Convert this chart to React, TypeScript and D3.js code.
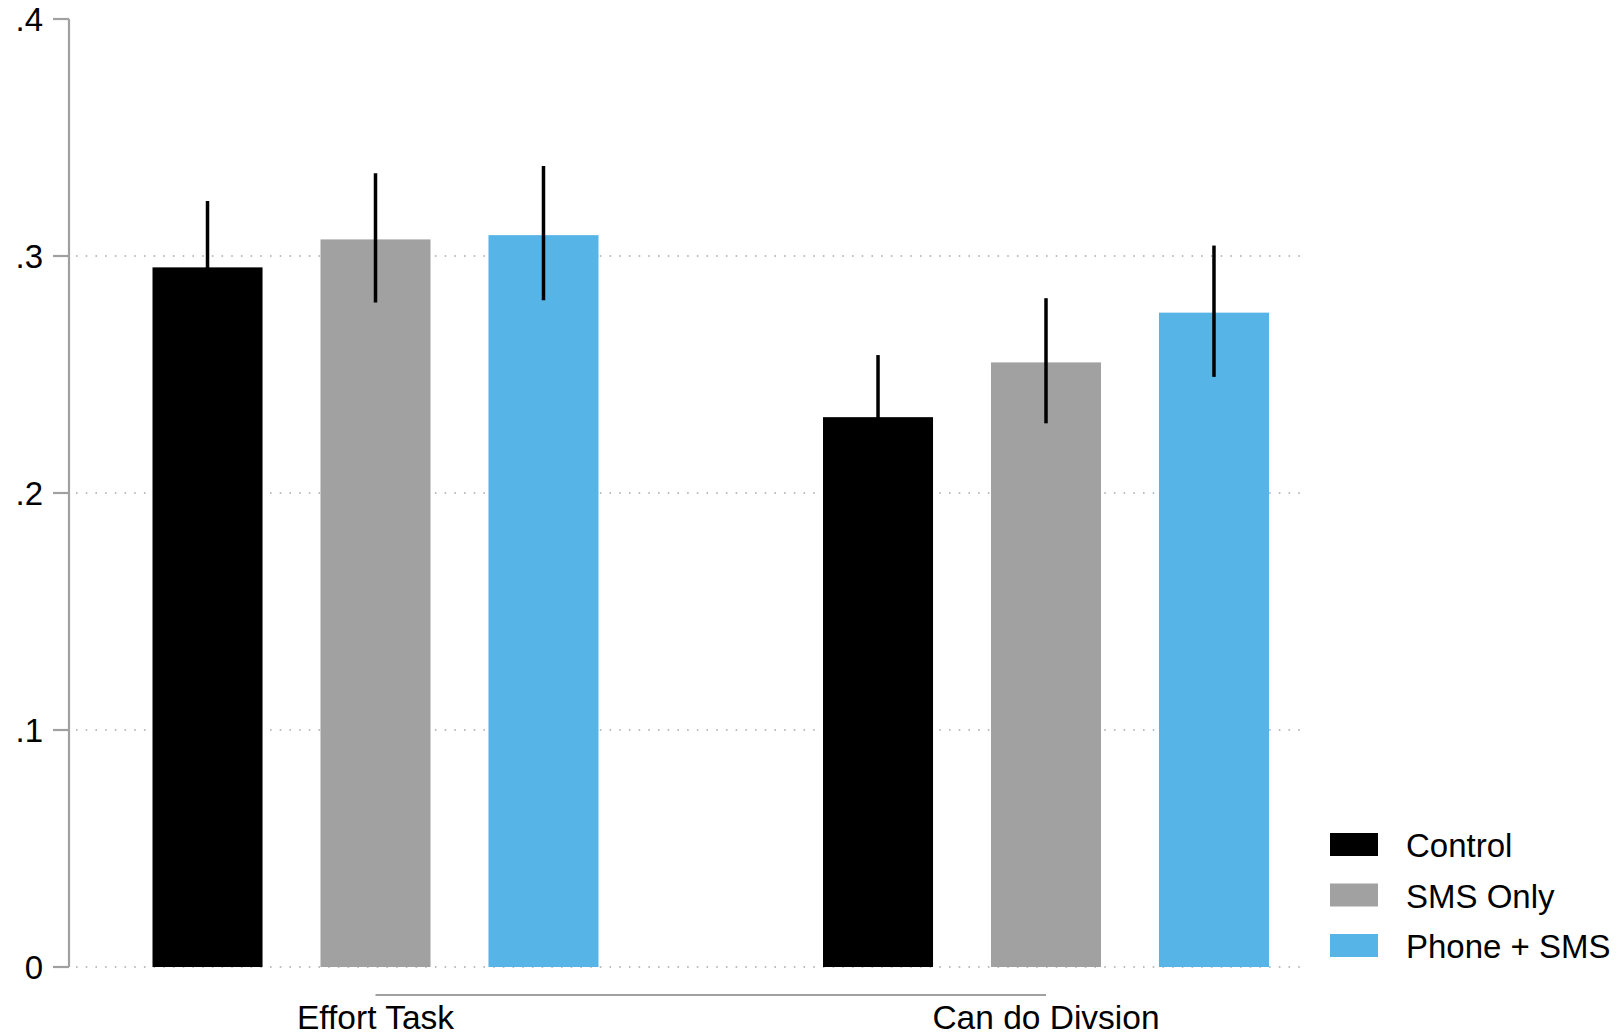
import React from "react";
import * as d3 from "d3";

const categories = ["Effort Task", "Can do Divsion"];
const seriesNames = ["Control", "SMS Only", "Phone + SMS"];
const seriesColors = ["#000000", "#a1a1a1", "#57b4e7"];
// means per series, ordered by category
const means = [
  [0.2952, 0.2320],
  [0.3070, 0.2551],
  [0.3088, 0.2761],
];
const ciLow = [
  [0.2672, 0.2058],
  [0.2804, 0.2294],
  [0.2813, 0.2490],
];
const ciHigh = [
  [0.3232, 0.2582],
  [0.3349, 0.2822],
  [0.3380, 0.3044],
];
const yTicks = [0, 0.1, 0.2, 0.3, 0.4];
const yTickLabels = ["0", ".1", ".2", ".3", ".4"];
const gridTicks = [0, 0.1, 0.2, 0.3];

const W = 1623;
const H = 1035;
const FONT = "'Liberation Sans', Arial, Helvetica, sans-serif";

export default function App() {
  const y = d3.scaleLinear().domain([0, 0.4]).range([967, 19]);
  const xg = d3.scalePoint<string>().domain(categories).range([375.5, 1046]);
  const xs = d3
    .scaleBand<string>()
    .domain(seriesNames)
    .range([-223, 223])
    .paddingInner(0.345)
    .paddingOuter(0);
  const axisX = 69;

  return (
    <svg
      width={W}
      height={H}
      style={{ position: "absolute", left: 0, top: 0, background: "#fff" }}
      fontFamily={FONT}
    >
      <rect x={0} y={0} width={W} height={H} fill="#fff" />
      {/* gridlines */}
      {gridTicks.map((t) => (
        <line
          key={"g" + t}
          x1={76}
          x2={1300}
          y1={y(t)}
          y2={y(t)}
          stroke="#a8a8a8"
          strokeWidth={1.6}
          strokeDasharray="1.6 8.1"
        />
      ))}
      {/* y axis */}
      <line x1={axisX} x2={axisX} y1={y(0.4)} y2={y(0)} stroke="#a0a0a0" strokeWidth={2.2} />
      {yTicks.map((t, i) => (
        <g key={"t" + t}>
          <line x1={53} x2={axisX} y1={y(t)} y2={y(t)} stroke="#a0a0a0" strokeWidth={2.2} />
          <text x={43} y={y(t)} dy="0.36em" textAnchor="end" fontSize={33} fill="#000">
            {yTickLabels[i]}
          </text>
        </g>
      ))}
      {/* bars */}
      {seriesNames.map((s, si) =>
        categories.map((c, ci) => {
          const x0 = (xg(c) as number) + (xs(s) as number);
          return (
            <rect
              key={s + c}
              x={x0}
              y={y(means[si][ci])}
              width={xs.bandwidth()}
              height={y(0) - y(means[si][ci])}
              fill={seriesColors[si]}
            />
          );
        })
      )}
      {/* error bars */}
      {seriesNames.map((s, si) =>
        categories.map((c, ci) => {
          const cx = (xg(c) as number) + (xs(s) as number) + xs.bandwidth() / 2;
          return (
            <line
              key={"e" + s + c}
              x1={cx}
              x2={cx}
              y1={y(ciLow[si][ci])}
              y2={y(ciHigh[si][ci])}
              stroke="#000"
              strokeWidth={3.5}
            />
          );
        })
      )}
      {/* x axis */}
      <line
        x1={xg.range()[0]}
        x2={xg.range()[1]}
        y1={995}
        y2={995}
        stroke="#a0a0a0"
        strokeWidth={2.2}
      />
      {categories.map((c) => (
        <text key={c} x={xg(c)} y={1029} textAnchor="middle" fontSize={33.5} fill="#000">
          {c}
        </text>
      ))}
      {/* legend */}
      {seriesNames.map((s, i) => (
        <g key={"l" + s} transform={`translate(1330, ${833 + i * 50.5})`}>
          <rect x={0} y={0} width={48} height={23} fill={seriesColors[i]} />
          <text x={76} y={24} fontSize={33} fill="#000">
            {s}
          </text>
        </g>
      ))}
    </svg>
  );
}
